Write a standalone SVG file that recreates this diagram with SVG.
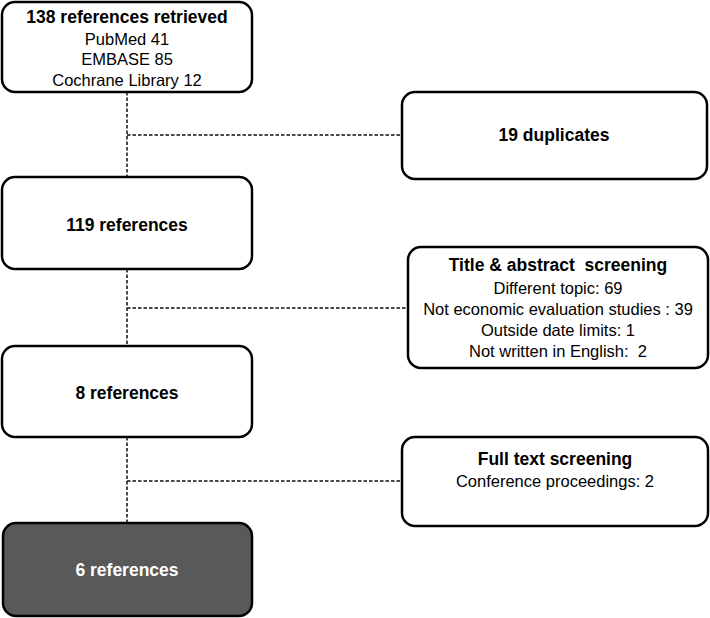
<svg xmlns="http://www.w3.org/2000/svg" width="710" height="618" viewBox="0 0 710 618">
<style>
.box{fill:#fff;stroke:#000;stroke-width:2.5}
.dark{fill:#595959;stroke:#000;stroke-width:2.5}
.t{font-family:"Liberation Sans",Arial,sans-serif;font-size:16.5px;fill:#000;text-anchor:middle;white-space:pre}
.b{font-weight:bold;font-size:17.5px}
.w{fill:#fff}
.c{fill:none;stroke:#111;stroke-width:1.5;stroke-dasharray:3.5 2}
</style>
<rect width="710" height="618" fill="#fff"/>
<g id="connectors">
<path class="c" d="M127,92 V178 M127,135 H402"/>
<path class="c" d="M127,269 V346 M127,308 H408"/>
<path class="c" d="M127,437 V523 M127,481 H402"/>
</g>
<g id="n1">
<rect class="box" x="2" y="2" width="250" height="90" rx="13"/>
<text class="t b" x="127" y="23">138 references retrieved</text>
<text class="t" x="127" y="45">PubMed 41</text>
<text class="t" x="127" y="65">EMBASE 85</text>
<text class="t" x="127" y="86">Cochrane Library 12</text>
</g>
<g id="n2">
<rect class="box" x="402" y="92" width="305" height="87" rx="13"/>
<text class="t b" x="554" y="141">19 duplicates</text>
</g>
<g id="n3">
<rect class="box" x="2" y="177" width="250" height="92" rx="13"/>
<text class="t b" x="127" y="231">119 references</text>
</g>
<g id="n4">
<rect class="box" x="408" y="247" width="300" height="121" rx="13"/>
<text class="t b" x="558" y="271">Title &amp; abstract  screening</text>
<text class="t" x="558" y="294">Different topic: 69</text>
<text class="t" x="558" y="315">Not economic evaluation studies : 39</text>
<text class="t" x="558" y="336">Outside date limits: 1</text>
<text class="t" x="558" y="357">Not written in English:  2</text>
</g>
<g id="n5">
<rect class="box" x="2" y="346" width="250" height="91" rx="13"/>
<text class="t b" x="127" y="399">8 references</text>
</g>
<g id="n6">
<rect class="box" x="402" y="437" width="306" height="89" rx="13"/>
<text class="t b" x="555" y="465">Full text screening</text>
<text class="t" x="555" y="487">Conference proceedings: 2</text>
</g>
<g id="n7">
<rect class="dark" x="3" y="523" width="249" height="93" rx="13"/>
<text class="t b w" x="127" y="576">6 references</text>
</g>
</svg>
